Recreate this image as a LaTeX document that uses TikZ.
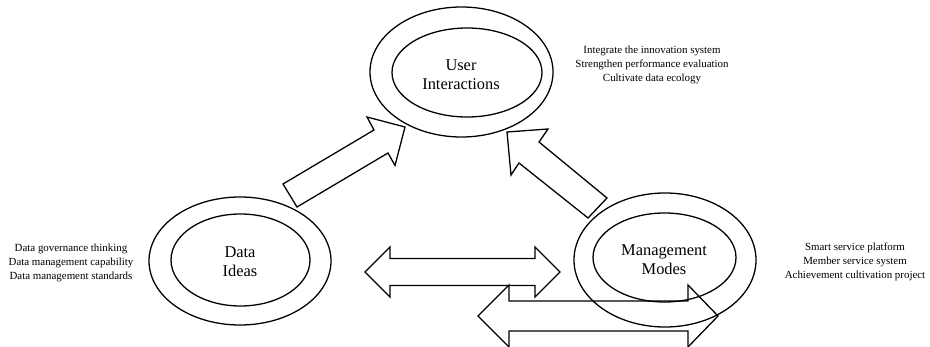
\documentclass[tikz,border=0pt]{standalone}
\usepackage{fontspec}
\setmainfont{Liberation Serif}
\usetikzlibrary{shapes.geometric}

\tikzstyle{ring} = [draw, ellipse, line width=1.1pt, inner sep=0pt]
\tikzstyle{ringtext} = [align=center, font=\fontsize{14}{16.5}\selectfont]
\tikzstyle{listtext} = [align=center, font=\fontsize{9.3}{12}\selectfont]
\tikzstyle{bigarrow} = [draw, line width=1.1pt, line join=miter]

\begin{document}
\begin{tikzpicture}[x=0.03cm,y=-0.03cm]
\useasboundingbox (0,0) rectangle (930,347);

% Rings
\node [ring, minimum width=5.49cm, minimum height=3.9cm] (userOut) at (461.5,72) {};
\node [ring, minimum width=4.5cm, minimum height=2.67cm] (userIn) at (467,72.5) {};
\node [ring, minimum width=5.46cm, minimum height=3.84cm] (ideasOut) at (240,261) {};
\node [ring, minimum width=4.17cm, minimum height=2.76cm] (ideasIn) at (240.5,260) {};
\node [ring, minimum width=5.46cm, minimum height=4.02cm] (modesOut) at (665,260) {};
\node [ring, minimum width=4.29cm, minimum height=2.67cm] (modesIn) at (664.5,257.5) {};

% Ring names
\node [ringtext] (userText) at (461,75) {User\\Interactions};
\node [ringtext] (ideasText) at (240,262) {Data\\Ideas};
\node [ringtext] (modesText) at (664,260) {Management\\Modes};

% Lists
\node [listtext] (userList) at (652,65) {Integrate the innovation system\\Strengthen performance evaluation\\Cultivate data ecology};
\node [listtext] (ideasList) at (71,263) {Data governance thinking\\Data management capability\\Data management standards};
\node [listtext] (modesList) at (855,262) {Smart service platform\\Member service system\\Achievement cultivation project};

% Ideas up to users
\draw [bigarrow] (283,184) -- (374,130) -- (367,117) -- (405,127)
  -- (395,165.5) -- (388,153) -- (297,207) -- cycle;

% Modes up to users
\draw [bigarrow] (607,198) -- (539,142) -- (548,129) -- (507,132)
  -- (511,175) -- (519,163) -- (588,218) -- cycle;

% Double arrows at the bottom
\draw [bigarrow] (365,272) -- (390,247) -- (390,258.5) -- (535,258.5) -- (535,247)
  -- (560,272) -- (535,297) -- (535,285.5) -- (390,285.5) -- (390,297) -- cycle;
\draw [bigarrow] (478,316) -- (509,285) -- (509,301) -- (688,301) -- (688,285)
  -- (718,316) -- (688,347) -- (688,331) -- (509,331) -- (509,347) -- cycle;

\end{tikzpicture}
\end{document}
